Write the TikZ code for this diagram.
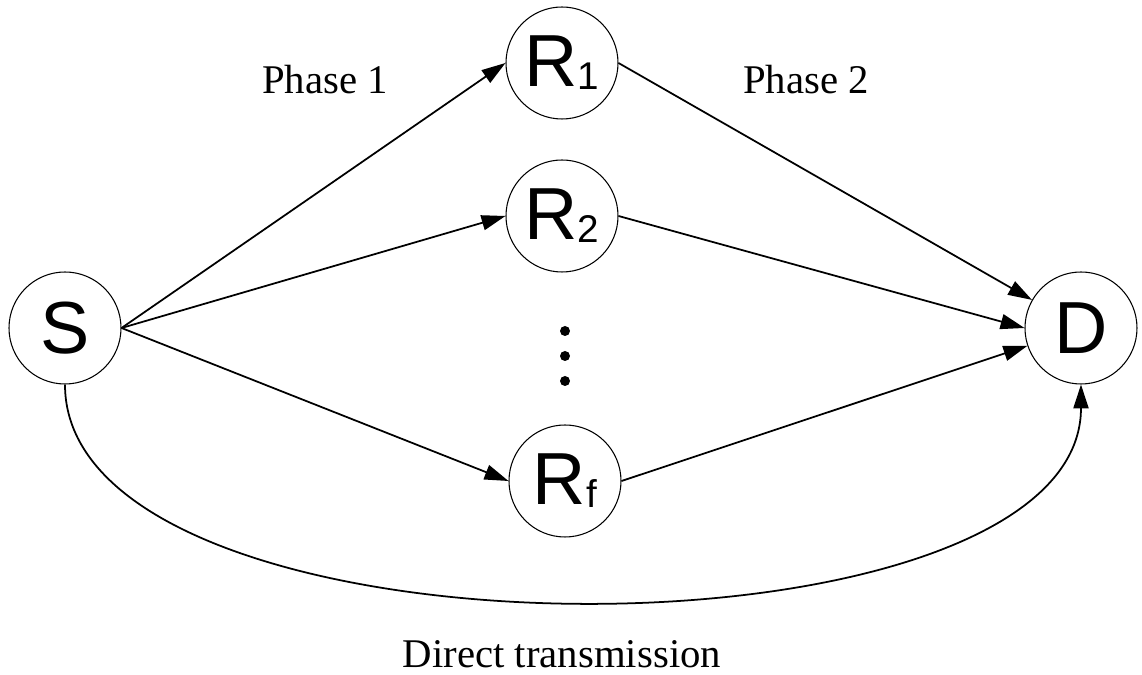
\documentclass[tikz,border=0pt]{standalone}
\usepackage{fontspec}
\setmainfont{Liberation Serif}
\newfontfamily\nodefont{Liberation Sans}
\usetikzlibrary{arrows.meta, positioning}
\newcommand{\relay}[1]{R\raisebox{-0.8pt}{\fontsize{11}{11}\selectfont #1}}

\begin{document}
\begin{tikzpicture}[
    station/.style={draw, circle, line width=0.3pt, minimum size=1.12cm, inner sep=0pt, font=\nodefont\fontsize{21}{21}\selectfont},
    link/.style={line width=0.5pt, -{Triangle[length=6.8pt,width=4.3pt]}},
    phase/.style={font=\fontsize{11.6}{11.6}\selectfont, anchor=base}]

    \useasboundingbox (0,0) rectangle (11.42,6.75);

    % Nodes
    \node[station] (S) at (0.65,3.47) {S};
    \node[station] (R1) at (5.62,6.12) {\relay{1}};
    \node[station] (R2) at (5.62,4.59) {\relay{2}};
    \node[station] (Rf) at (5.65,1.94) {\relay{f}};
    \node[station] (D) at (10.81,3.47) {D};

    % Dots
    \foreach \y in {3.44,3.19,2.94}
        \fill (5.65,\y) circle (0.05);

    % Phase 1
    \draw[link] (S.east) -- (R1.west);
    \draw[link] (S.east) -- (R2.west);
    \draw[link] (S.east) -- (Rf.west);

    % Phase 2
    \draw[link] (R1.east) -- (D);
    \draw[link] (R2.east) -- (D.west);
    \draw[link] (Rf.east) -- (D);

    % Direct link
    \draw[link] (S.south) .. controls (0.65,0.02) and (10.81,0.02) .. (D.south);

    % Labels
    \node[phase] (p1) at (3.25,5.81) {Phase 1};
    \node[phase] (p2) at (8.06,5.81) {Phase 2};
    \node[phase] (dt) at (5.62,0.07) {Direct transmission};

\end{tikzpicture}
\end{document}
